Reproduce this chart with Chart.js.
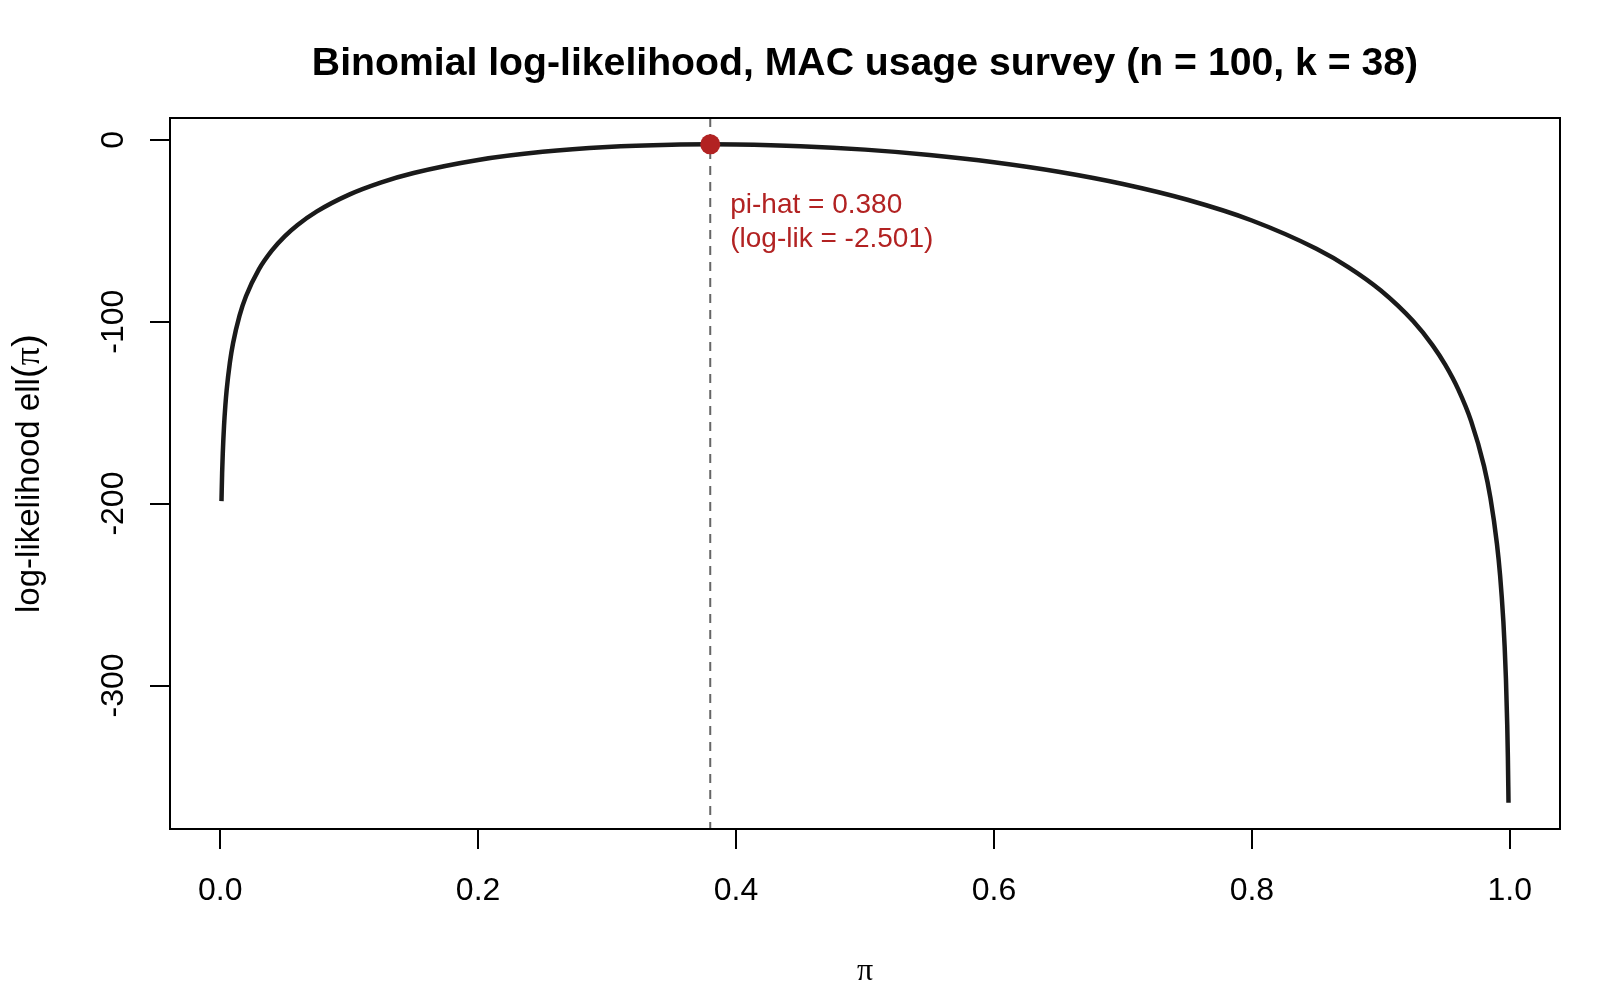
<!DOCTYPE html>
<html>
<head>
<meta charset="utf-8">
<title>Binomial log-likelihood</title>
<script src="https://cdn.jsdelivr.net/npm/chart.js@4.4.1/dist/chart.umd.min.js"></script>
<style>
  html, body { margin: 0; padding: 0; background: #fff; }
  #grafica { display: block; }
</style>
</head>
<body>
<canvas id="grafica" width="1600" height="1000"></canvas>
<script>
const valoresPi = [0.001, 0.0015, 0.002, 0.003, 0.004, 0.005, 0.0075, 0.01, 0.015, 0.02,
  0.03, 0.04, 0.05, 0.06, 0.075, 0.1, 0.125, 0.15, 0.2, 0.25, 0.3, 0.35, 0.38, 0.4, 0.45,
  0.5, 0.55, 0.6, 0.65, 0.7, 0.75, 0.8, 0.85, 0.875, 0.9, 0.925, 0.94, 0.95, 0.96, 0.97,
  0.98, 0.985, 0.99, 0.9925, 0.995, 0.996, 0.997, 0.998, 0.9985, 0.999];
const logVerosimilitud = [-198.65, -183.27, -172.37, -157.03, -146.16, -137.74, -122.49, -111.71, -96.62, -86.00,
  -71.23, -60.94, -53.11, -46.84, -39.36, -30.13, -23.39, -18.26, -11.09, -6.61, -3.96, -2.70, -2.50, -2.58, -3.50,
  -5.41, -8.32, -12.32, -17.55, -24.29, -32.98, -44.36, -59.89, -70.09, -82.86, -99.65, -112.88, -123.78, -137.22, -154.66,
  -179.41, -197.05, -222.00, -239.74, -264.78, -278.58, -296.38, -321.48, -339.29, -364.41];
const piHat = 0.380;
const logLikMax = -2.501;
const ticksX = [0, 0.2, 0.4, 0.6, 0.8, 1.0];
const ticksY = [0, -100, -200, -300];
const titulo = 'Binomial log-likelihood, MAC usage survey (n = 100, k = 38)';

const SANS = 'Arial, "Liberation Sans", sans-serif';
const SERIF = '"Liberation Serif", "DejaVu Serif", serif';

document.addEventListener('DOMContentLoaded', () => {

  // rango con el 4% extra que usa R
  const xMin = Math.min(...valoresPi), xMax = Math.max(...valoresPi);
  const yMin = Math.min(...logVerosimilitud), yMax = Math.max(...logVerosimilitud, logLikMax);
  const padX = (xMax - xMin) * 0.04, padY = (yMax - yMin) * 0.04;

  const puntos = valoresPi.map((p, i) => ({ x: p, y: logVerosimilitud[i] }));

  const dibujoR = {
    id: 'dibujoR',
    beforeDatasetsDraw(chart) {
      const { ctx, chartArea: a, scales: { x } } = chart;
      const px = x.getPixelForValue(piHat);
      ctx.save();
      ctx.strokeStyle = '#666666';
      ctx.lineWidth = 2;
      ctx.setLineDash([9, 7]);
      ctx.beginPath();
      ctx.moveTo(px, a.top);
      ctx.lineTo(px, a.bottom);
      ctx.stroke();
      ctx.restore();
    },
    afterDraw(chart) {
      const { ctx, chartArea: a, scales: { x, y } } = chart;
      ctx.save();
      ctx.fillStyle = '#000';
      ctx.strokeStyle = '#000';
      ctx.lineWidth = 2;
      ctx.strokeRect(a.left, a.top, a.right - a.left, a.bottom - a.top);

      // titulo
      ctx.font = 'bold 39.2px ' + SANS;
      ctx.textAlign = 'center';
      ctx.textBaseline = 'alphabetic';
      ctx.fillText(titulo, (a.left + a.right) / 2, 75);

      // etiquetas eje x
      ctx.font = '32px ' + SANS;
      ticksX.forEach(v => {
        ctx.fillText(v.toFixed(1), x.getPixelForValue(v), 900);
      });

      // etiquetas eje y (giradas)
      ticksY.forEach(v => {
        ctx.save();
        ctx.translate(123, y.getPixelForValue(v));
        ctx.rotate(-Math.PI / 2);
        ctx.textAlign = 'center';
        ctx.fillText(String(v), 0, 0);
        ctx.restore();
      });

      // titulo eje x
      ctx.font = '32px ' + SERIF;
      ctx.fillText('π', (a.left + a.right) / 2, 980);

      // titulo eje y
      const partes = [
        { t: 'log-likelihood ell', f: '33px ' + SANS },
        { t: '(', f: '39px ' + SANS },
        { t: 'π', f: '36px ' + SERIF },
        { t: ')', f: '39px ' + SANS }
      ];
      let total = 0;
      partes.forEach(p => { ctx.font = p.f; p.w = ctx.measureText(p.t).width; total += p.w; });
      ctx.save();
      ctx.translate(39, (a.top + a.bottom) / 2);
      ctx.rotate(-Math.PI / 2);
      ctx.textAlign = 'left';
      let pos = -total / 2;
      partes.forEach(p => { ctx.font = p.f; ctx.fillText(p.t, pos, 0); pos += p.w; });
      ctx.restore();

      // anotacion del maximo
      const px = x.getPixelForValue(piHat);
      const py = y.getPixelForValue(logLikMax);
      ctx.fillStyle = '#B22222';
      ctx.font = '28px ' + SANS;
      ctx.textAlign = 'left';
      ctx.fillText('pi-hat = ' + piHat.toFixed(3), px + 20, py + 69);
      ctx.fillText('(log-lik = ' + logLikMax.toFixed(3) + ')', px + 20, py + 103);
      ctx.restore();
    }
  };

  new Chart(document.getElementById('grafica'), {
    type: 'line',
    data: {
      datasets: [
        {
          label: 'MLE',
          data: [{ x: piHat, y: logLikMax }],
          showLine: false,
          pointRadius: 10,
          pointBackgroundColor: '#B22222',
          pointBorderColor: '#B22222',
          pointBorderWidth: 0
        },
        {
          label: 'log-likelihood',
          data: puntos,
          borderColor: '#1a1a1a',
          borderWidth: 4.5,
          pointRadius: 0,
          fill: false,
          cubicInterpolationMode: 'monotone'
        }
      ]
    },
    options: {
      responsive: false,
      animation: false,
      layout: { padding: { top: 118, right: 40, bottom: 0, left: 0 } },
      plugins: {
        legend: { display: false },
        title: { display: false },
        tooltip: { enabled: false }
      },
      scales: {
        x: {
          type: 'linear',
          min: xMin - padX,
          max: xMax + padX,
          afterBuildTicks: s => { s.ticks = ticksX.map(v => ({ value: v })); },
          afterFit: s => { s.height = 171; },
          ticks: { display: false },
          grid: { drawOnChartArea: false, drawTicks: true, tickLength: 20, color: '#000', lineWidth: 2 },
          border: { display: false }
        },
        y: {
          type: 'linear',
          min: yMin - padY,
          max: yMax + padY,
          afterBuildTicks: s => { s.ticks = ticksY.map(v => ({ value: v })); },
          afterFit: s => { s.width = 170; },
          ticks: { display: false },
          grid: { drawOnChartArea: false, drawTicks: true, tickLength: 20, color: '#000', lineWidth: 2 },
          border: { display: false }
        }
      }
    },
    plugins: [dibujoR]
  });
});
</script>
</body>
</html>
